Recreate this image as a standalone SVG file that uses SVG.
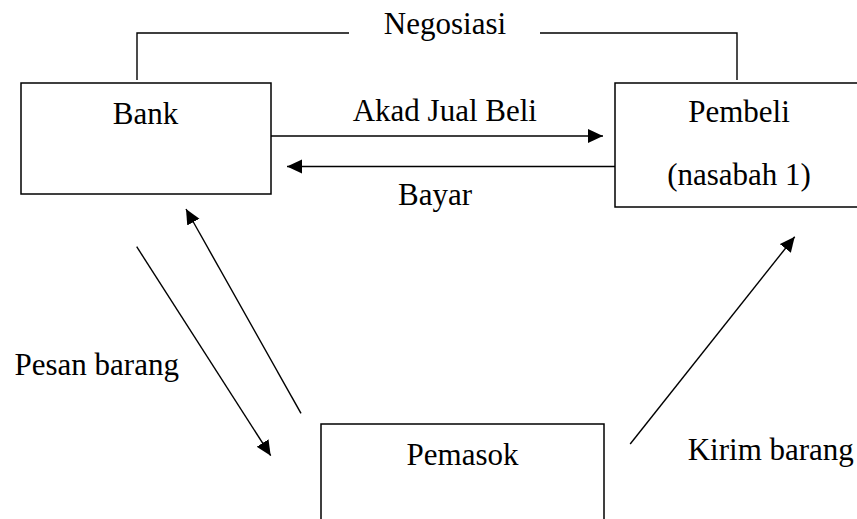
<svg xmlns="http://www.w3.org/2000/svg" width="857" height="519" viewBox="0 0 857 519">
  <style>
    .box { fill: #ffffff; stroke: #000000; stroke-width: 1.5; }
    .ln { fill: none; stroke: #000000; stroke-width: 1.4; }
    .arr { fill: none; stroke: #000000; stroke-width: 1.4; marker-end: url(#ah); }
    .t { font-family: "Liberation Serif", "Times New Roman", serif; font-size: 31px; fill: #000000; text-anchor: middle; }
  </style>
  <defs>
    <marker id="ah" markerUnits="userSpaceOnUse" markerWidth="16" markerHeight="16" refX="15" refY="7" orient="auto">
      <path d="M0,0 L15,7 L0,14 z" fill="#000000"/>
    </marker>
  </defs>
  <rect width="857" height="519" fill="#ffffff"/>

  <g id="bank">
    <rect class="box" x="21" y="83" width="250" height="111"/>
    <text class="t" x="145.5" y="124">Bank</text>
  </g>
  <g id="pembeli">
    <rect class="box" x="615" y="83" width="260" height="124"/>
    <text class="t" x="739" y="122">Pembeli</text>
    <text class="t" x="739" y="185">(nasabah 1)</text>
  </g>
  <g id="pemasok">
    <rect class="box" x="321" y="424" width="283" height="110"/>
    <text class="t" x="462.5" y="465">Pemasok</text>
  </g>

  <g id="connectors">
    <polyline class="ln" points="137,80 137,33 349,33"/>
    <polyline class="ln" points="540,33 737,33 737,80"/>
    <line class="arr" x1="271" y1="136" x2="603" y2="136"/>
    <line class="arr" x1="615" y1="166.5" x2="287" y2="166.5"/>
    <line class="arr" x1="136.7" y1="246.7" x2="270.7" y2="455.7"/>
    <line class="arr" x1="301" y1="413.3" x2="186" y2="209"/>
    <line class="arr" x1="630.2" y1="444" x2="794.7" y2="236.7"/>
  </g>

  <g id="labels">
    <text class="t" x="445" y="34">Negosiasi</text>
    <text class="t" x="444.8" y="121">Akad Jual Beli</text>
    <text class="t" x="435" y="205">Bayar</text>
    <text class="t" x="96.7" y="375">Pesan barang</text>
    <text class="t" x="770.8" y="460">Kirim barang</text>
  </g>
</svg>
